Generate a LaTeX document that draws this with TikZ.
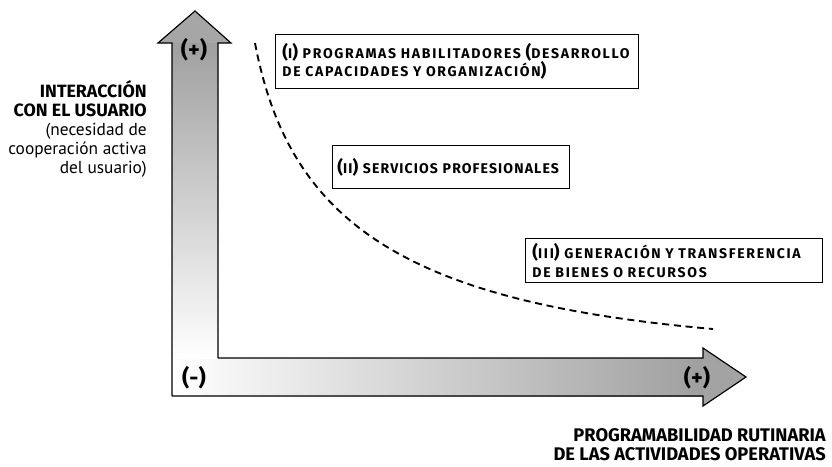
\documentclass[tikz,border=0pt]{standalone}
\usepackage{fontspec}
\setmainfont{PT Sans}[BoldFont={Fira Sans Bold}]
\newcommand{\bp}[1]{{\fontsize{15}{15}\selectfont #1}}
\tikzset{
  caja/.style={draw, line width=0.8pt, anchor=north west, align=left,
    inner xsep=0.21cm, inner ysep=0pt,
    font=\bfseries\fontsize{12}{16}\selectfont\addfontfeatures{LetterSpace=12}},
  rotulo/.style={inner sep=0pt, align=right, font=\fontsize{14.8}{16.2}\selectfont},
  signo/.style={inner sep=0pt, font=\bfseries\fontsize{19}{19}\selectfont},
}
\begin{document}
\begin{tikzpicture}[x=0.03cm,y=-0.03cm]
\useasboundingbox (0,0) rectangle (832,466);

\shade[left color=white, right color=gray!75] (172,358) rectangle (703,396);
\fill[gray!72] (703,348) -- (746,377) -- (703,406) -- cycle;
\shade[top color=gray!75, bottom color=white] (172,43) rectangle (218,358);
\fill[gray!70] (158,43) -- (195,11) -- (231,43) -- cycle;
\draw[line width=1pt] (218,358) -- (218,43) -- (231,43) -- (195,11) -- (158,43) -- (172,43) -- (172,396);
\draw[line width=1pt] (218,358) -- (703,358) -- (703,348) -- (746,377) -- (703,406) -- (703,396) -- (172,396);

\draw[line width=1.6pt, dash pattern=on 6pt off 4pt] (255,43) .. controls (289,223) and (405,302) .. (713,329);

\node[signo] (masy) at (194,50) {(+)};
\node[signo] (menos) at (194,378) {(-)};
\node[signo] (masx) at (697,378) {(+)};

\node[rotulo, anchor=north east] (ejey) at (147,80)
  {{\fontsize{15.2}{16.2}\selectfont\bfseries INTERACCIÓN}\\{\fontsize{15.2}{16.2}\selectfont\bfseries CON EL USUARIO}\\(necesidad de\\cooperación activa\\del usuario)};
\node[rotulo, anchor=north east] (ejex) at (826,428)
  {{\fontsize{15.6}{16.8}\selectfont\bfseries PROGRAMABILIDAD RUTINARIA}\\{\fontsize{15.6}{16.8}\selectfont\bfseries DE LAS ACTIVIDADES OPERATIVAS}};

\node[caja, text width=10.47cm, minimum height=1.62cm] (hab) at (275,34)
  {\bp{(}I\bp{)} PROGRAMAS HABILITADORES \bp{(}DESARROLLO\\DE CAPACIDADES Y ORGANIZACIÓN\bp{)}};
\node[caja, font=\bfseries\fontsize{12}{16}\selectfont\addfontfeatures{LetterSpace=8},
  inner xsep=0.15cm, text width=6.81cm, minimum height=1.29cm] (serv) at (332,145)
  {\mbox{\bp{(}II\bp{)} SERVICIOS PROFESIONALES}};
\node[caja, text width=8.49cm, minimum height=1.32cm] (gen) at (525,238)
  {\bp{(}III\bp{)} GENERACIÓN Y TRANSFERENCIA\\DE BIENES O RECURSOS};
\end{tikzpicture}
\end{document}
